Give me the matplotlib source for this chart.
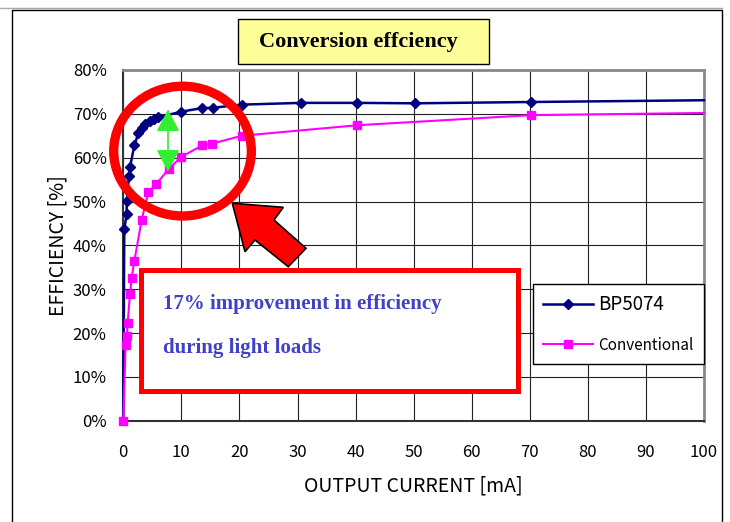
import matplotlib.pyplot as plt
from matplotlib.patches import Ellipse, Polygon, Rectangle
from matplotlib.lines import Line2D

# Data
bp_current = [0, 0.17, 0.57, 0.6, 0.98, 1.15, 1.9, 2.6, 3.2, 3.8, 4.6, 5.3, 6.0,
              10.0, 13.5, 15.5, 20.4, 30.6, 40.2, 50.2, 70.2, 100]
bp_eff = [0, 43.7, 47.1, 50.2, 55.9, 57.8, 62.8, 65.6, 66.8, 67.6, 68.3, 68.8, 69.2,
          70.5, 71.3, 71.4, 72.1, 72.5, 72.5, 72.4, 72.7, 73.1]

conv_current = [0, 0.4, 0.63, 0.75, 1.15, 1.44, 1.9, 3.16, 4.3, 5.7, 7.8,
                10.0, 13.6, 15.3, 20.4, 40.3, 70.2, 100]
conv_eff = [0, 17.3, 19.4, 22.3, 28.8, 32.6, 36.4, 45.8, 52.1, 54.0, 57.4,
            60.2, 62.8, 63.2, 65.0, 67.4, 69.7, 70.2]

x_ticks = list(range(0, 101, 10))
y_ticks = list(range(0, 81, 10))

W, H = 730, 522
sans = ['Noto Sans CJK JP', 'DejaVu Sans']
serif = ['Liberation Serif', 'DejaVu Serif']

fig = plt.figure(figsize=(W / 100, H / 100), dpi=100)
ax = fig.add_axes([123.3 / W, 1 - 420.7 / H, (704 - 123.3) / W, (420.7 - 70) / H])

def px(x, y):
    # pixel position in the picture -> figure fraction
    return (x / W, 1 - y / H)

# end points on the axes edges show no marker in the original
ax.plot(bp_current, bp_eff, color='#000080', lw=1.8, marker='D', ms=5.5,
        markevery=list(range(1, len(bp_current) - 1)), label='BP5074',
        zorder=3, clip_on=False)
ax.plot(conv_current, conv_eff, color='#FF00FF', lw=1.5, marker='s', ms=5.5,
        markevery=list(range(len(conv_current) - 1)), label='Conventional',
        zorder=3, clip_on=False)

ax.set_xlim(0, 100)
ax.set_ylim(0, 80)
ax.set_xticks(x_ticks)
ax.set_yticks(y_ticks)
ax.set_yticklabels([f'{v}%' for v in y_ticks])
ax.tick_params(length=0, labelsize=12)
ax.tick_params(axis='x', pad=17)
ax.tick_params(axis='y', pad=12)
for lab in ax.get_xticklabels() + ax.get_yticklabels():
    lab.set_family(sans)
ax.grid(True, color='#222222', lw=0.8)
ax.set_axisbelow(True)
for s in ['left', 'bottom']:
    ax.spines[s].set_color('#333333')
    ax.spines[s].set_linewidth(1.5)
for s in ['top', 'right']:
    ax.spines[s].set_color('#888888')
    ax.spines[s].set_linewidth(2)

ax.set_xlabel('OUTPUT CURRENT [mA]', family=sans, fontsize=14, labelpad=10)
ax.set_ylabel('EFFICIENCY [%]', family=sans, fontsize=14, labelpad=3)

leg = ax.legend(loc='upper left', bbox_to_anchor=px(533.3, 284),
                bbox_transform=fig.transFigure, borderaxespad=0,
                frameon=True, fancybox=False, edgecolor='black', framealpha=1,
                handlelength=3.0, handletextpad=0.3, labelspacing=1.3,
                borderpad=0.6, prop={'family': sans, 'size': 12})
leg.get_frame().set_linewidth(1.0)
leg.get_texts()[0].set_fontsize(13.5)
leg.get_texts()[1].set_fontsize(11)
leg.set_zorder(6)

# red circle around the light-load region
ax.add_patch(Ellipse((10.2, 61.5), 23.7, 29.6, fill=False, ec='#FF0000', lw=6.7,
                     zorder=5, clip_on=False))

# green double arrow showing the gap
ax.annotate('', xy=(7.7, 71.0), xytext=(7.7, 56.8),
            arrowprops=dict(arrowstyle='<|-|>,head_length=1.37,head_width=0.72',
                            mutation_scale=10, color='#33EE33', lw=1.2,
                            shrinkA=0, shrinkB=0), zorder=6)

# big red arrow pointing at the circle
arrow_px = [(232.3, 203.3), (283.3, 207.3), (274, 220), (306, 248.3),
            (288.3, 266.7), (255, 240), (245, 251.7)]
fig.patches.append(Polygon([px(*p) for p in arrow_px], closed=True, fc='#FF0000',
                           ec='black', lw=1.2, transform=fig.transFigure,
                           figure=fig, zorder=5))

# text box
fig.patches.append(Rectangle(px(140.5, 390.5), 377 / W, 121 / H, fc='white',
                             ec='#FF0000', lw=3.6, transform=fig.transFigure,
                             figure=fig, zorder=5))
fig.text(*px(163, 304), '17% improvement in efficiency', family=serif,
         weight='bold', fontsize=15, color='#4040C8', va='center', zorder=7)
fig.text(*px(163, 348), 'during light loads', family=serif,
         weight='bold', fontsize=15, color='#4040C8', va='center', zorder=7)

# title box
fig.patches.append(Rectangle(px(238, 64), 251 / W, 44.7 / H, fc='#FFFF99',
                             ec='black', lw=1.0, transform=fig.transFigure,
                             figure=fig, zorder=5))
fig.text(*px(358, 42.5), 'Conversion effciency', family=serif, weight='bold',
         fontsize=16, color='black', ha='center', va='center', zorder=7)

# outer chart frame
fig.lines.append(Line2D([0, 722 / W], [1 - 8 / H] * 2, color='#AAAAAA', lw=1,
                        transform=fig.transFigure, figure=fig))
fig.lines.append(Line2D([11.5 / W, 11.5 / W, 721.5 / W, 721.5 / W],
                        [0, 1 - 9.5 / H, 1 - 9.5 / H, 0], color='black', lw=1,
                        transform=fig.transFigure, figure=fig))

fig.savefig('out.png', dpi=100)
